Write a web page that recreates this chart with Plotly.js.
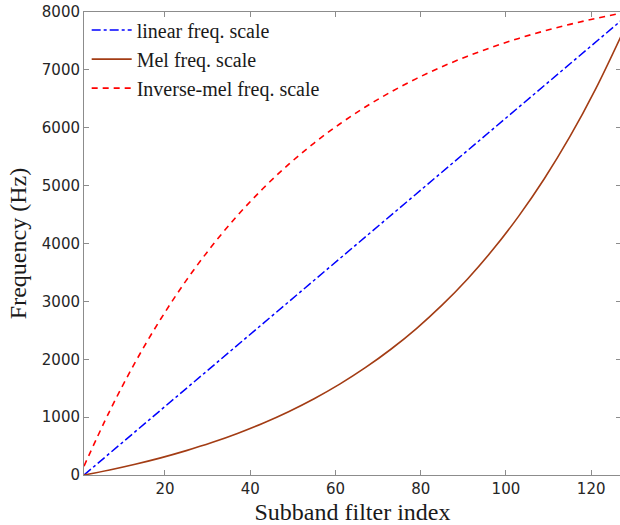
<!DOCTYPE html>
<html>
<head>
<meta charset="utf-8">
<script src="https://cdn.plot.ly/plotly-3.0.1.min.js"></script>
<style>
html,body{margin:0;padding:0;overflow:hidden;background:#fff;}
#chart{width:621px;height:525px;}
</style>
</head>
<body>
<div id="chart"></div>
<script>
// Subband filter index samples
const filterIndex = [1, 7, 13, 19, 25, 31, 37, 43, 49, 55, 61, 67, 73, 79, 85, 91, 97, 103, 109, 115, 121, 127];
// Frequencies (Hz)
const linearFreq = [0, 374, 748, 1121, 1495, 1869, 2243, 2617, 2990, 3364, 3738, 4112, 4486, 4859, 5233, 5607, 5981, 6355, 6728, 7102, 7476, 7850];
const melFreq = [0, 87, 186, 296, 421, 560, 718, 895, 1094, 1318, 1570, 1854, 2173, 2531, 2935, 3388, 3899, 4473, 5119, 5845, 6664, 7583];
const invMelFreq = [153, 1101, 1945, 2695, 3363, 3955, 4482, 4950, 5366, 5736, 6065, 6358, 6618, 6849, 7054, 7237, 7399, 7544, 7672, 7786, 7888, 7978];
const seriesNames = ['linear freq. scale', 'Mel freq. scale', 'Inverse-mel freq. scale'];
const xTicks = [20, 40, 60, 80, 100, 120];
const yTicks = [0, 1000, 2000, 3000, 4000, 5000, 6000, 7000, 8000];

const traces = [
  {x: filterIndex, y: linearFreq, name: seriesNames[0], mode: 'lines', legendgroup: 'a',
   line: {color: '#0000ff', width: 1.5, dash: 'dashdot'}},
  {x: filterIndex, y: melFreq, name: seriesNames[1], mode: 'lines', legendgroup: 'b',
   line: {color: '#a33c14', width: 1.6, shape: 'spline'}},
  {x: filterIndex, y: invMelFreq, name: seriesNames[2], mode: 'lines', legendgroup: 'c',
   line: {color: '#ff0000', width: 1.6, dash: '6px,5px', shape: 'spline'}}
];

const axisCommon = {
  showgrid: false, zeroline: false, showline: true, mirror: 'ticks',
  linecolor: '#8c8c8c', linewidth: 1, ticks: 'inside', ticklen: 5, tickcolor: '#8c8c8c',
  tickfont: {family: 'DejaVu Sans', size: 15, color: '#262626'}
};

const layout = {
  width: 621, height: 525,
  margin: {l: 84, r: 0, t: 12, b: 50},
  paper_bgcolor: '#fff', plot_bgcolor: '#fff',
  showlegend: true,
  legend: {x: 0.005, y: 1.003, xanchor: 'left', yanchor: 'top', bgcolor: 'rgba(0,0,0,0)',
    traceorder: 'grouped', tracegroupgap: 0, itemwidth: 40,
    font: {family: 'Liberation Serif', size: 20, color: '#1a1a1a'}},
  xaxis: Object.assign({}, axisCommon, {
    range: [1, 127], tickvals: xTicks, ticktext: xTicks.map(String),
    title: {text: 'Subband filter index', font: {family: 'Liberation Serif', size: 24, color: '#1a1a1a'}, standoff: 6}
  }),
  yaxis: Object.assign({}, axisCommon, {
    range: [0, 8000], tickvals: yTicks, ticktext: yTicks.map(String),
    title: {text: 'Frequency (Hz)', font: {family: 'Liberation Serif', size: 24, color: '#1a1a1a'}, standoff: 8}
  })
};

Plotly.newPlot('chart', traces, layout, {displayModeBar: false, staticPlot: true});
</script>
</body>
</html>
